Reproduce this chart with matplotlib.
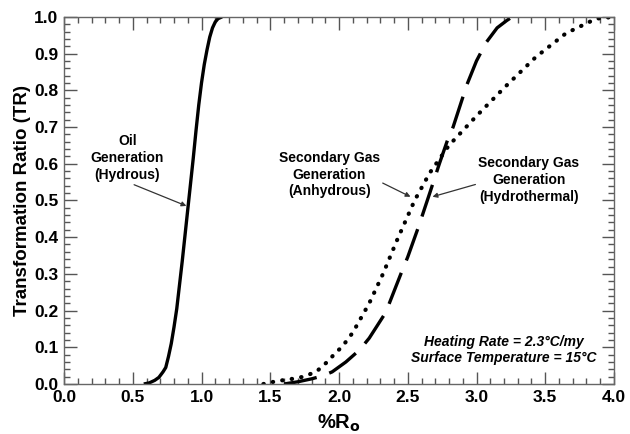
import numpy as np
import matplotlib.pyplot as plt
from matplotlib.ticker import MultipleLocator

plt.rcParams['font.family'] = ['Liberation Sans', 'DejaVu Sans']
plt.rcParams['font.weight'] = 'bold'

# Oil generation (hydrous), solid
ro_oil = [0.58, 0.62, 0.66, 0.69, 0.72, 0.74, 0.76, 0.78, 0.80, 0.82, 0.84,
          0.86, 0.88, 0.90, 0.92, 0.94, 0.96, 0.98, 1.00, 1.02, 1.04, 1.06,
          1.08, 1.10, 1.12, 1.15]
tr_oil = [0.0, 0.003, 0.01, 0.018, 0.033, 0.045, 0.075, 0.11, 0.155, 0.205,
          0.27, 0.335, 0.405, 0.475, 0.545, 0.615, 0.69, 0.76, 0.82, 0.87,
          0.91, 0.945, 0.97, 0.986, 0.995, 1.0]

# Secondary gas generation (anhydrous), dotted
ro_anh = [1.45, 1.55, 1.66, 1.73, 1.79, 1.84, 1.88, 1.93, 1.97, 2.02, 2.10,
          2.16, 2.22, 2.32, 2.42, 2.55, 2.66, 2.80, 3.00, 3.21, 3.43, 3.65,
          3.87, 4.0]
tr_anh = [0.0, 0.008, 0.014, 0.019, 0.027, 0.035, 0.049, 0.065, 0.084, 0.10,
          0.14, 0.18, 0.22, 0.30, 0.39, 0.50, 0.575, 0.65, 0.73, 0.81, 0.89,
          0.955, 0.995, 1.0]

# Secondary gas generation (hydrothermal), dashed
ro_hyd = [1.60, 1.70, 1.80, 1.88, 1.95, 2.05, 2.15, 2.22, 2.34, 2.45, 2.50,
          2.58, 2.66, 2.73, 2.79, 2.83, 2.93, 3.00, 3.07, 3.15, 3.22, 3.26]
tr_hyd = [0.0, 0.006, 0.014, 0.022, 0.033, 0.06, 0.093, 0.125, 0.195, 0.30,
          0.346, 0.43, 0.52, 0.60, 0.665, 0.70, 0.815, 0.88, 0.93, 0.97, 0.99, 1.0]

fig = plt.figure(figsize=(6.3, 4.34), dpi=100)
ax = fig.add_axes([0.1016, 0.1152, 0.873, 0.846])

ax.plot(ro_oil, tr_oil, color='black', lw=2.4, solid_capstyle='butt',
        solid_joinstyle='round')
ax.plot(ro_anh, tr_anh, color='black', lw=3.0, linestyle=(0, (0.1, 2.2)),
        dash_capstyle='round')
ax.plot(ro_hyd, tr_hyd, color='black', lw=2.4, linestyle=(0, (10, 4)),
        dash_capstyle='butt')

ax.set_xlim(0, 4)
ax.set_ylim(0, 1)
ax.xaxis.set_major_locator(MultipleLocator(0.5))
ax.xaxis.set_minor_locator(MultipleLocator(0.1))
ax.yaxis.set_major_locator(MultipleLocator(0.1))
ax.yaxis.set_minor_locator(MultipleLocator(0.02))
ax.xaxis.set_major_formatter(plt.FormatStrFormatter('%.1f'))
ax.yaxis.set_major_formatter(plt.FormatStrFormatter('%.1f'))

ax.tick_params(which='both', direction='in', top=True, right=True,
               color='#555555', width=1)
ax.tick_params(which='major', length=9, labelsize=12.5, pad=4)
ax.tick_params(which='minor', length=4.5)
for lab in ax.get_xticklabels() + ax.get_yticklabels():
    lab.set_fontweight('bold')
for s in ax.spines.values():
    s.set_color('#666666')
    s.set_linewidth(1)

ax.set_ylabel('Transformation Ratio (TR)', fontsize=13.5, fontweight='bold',
              labelpad=2)
ax.set_xlabel('%R$_\\mathbf{o}$', fontsize=14.5, fontweight='bold', labelpad=6)

arrow = dict(arrowstyle='-|>', color='#333333', lw=0.9,
             mutation_scale=7, shrinkA=0, shrinkB=0)
fs = 10
ax.annotate('Oil\nGeneration\n(Hydrous)', xy=(0.89, 0.485), xytext=(0.46, 0.615),
            ha='center', va='center', fontsize=fs, fontweight='bold',
            linespacing=1.25, arrowprops=dict(arrow, relpos=(0.5, 0.0)))
ax.annotate('Secondary Gas\nGeneration\n(Anhydrous)', xy=(2.52, 0.51),
            xytext=(1.93, 0.57), ha='center', va='center', fontsize=fs,
            fontweight='bold', linespacing=1.25,
            arrowprops=dict(arrow, relpos=(0.86, 0.5)))
ax.annotate('Secondary Gas\nGeneration\n(Hydrothermal)', xy=(2.68, 0.51),
            xytext=(3.38, 0.555), ha='center', va='center', fontsize=fs,
            fontweight='bold', linespacing=1.25,
            arrowprops=dict(arrow, relpos=(0.12, 0.5)))

ax.text(3.20, 0.093, 'Heating Rate = 2.3°C/my\nSurface Temperature = 15°C',
        ha='center', va='center', fontsize=10, fontweight='bold',
        fontstyle='italic', multialignment='center', linespacing=1.2)

fig.savefig('out.png', dpi=100)
